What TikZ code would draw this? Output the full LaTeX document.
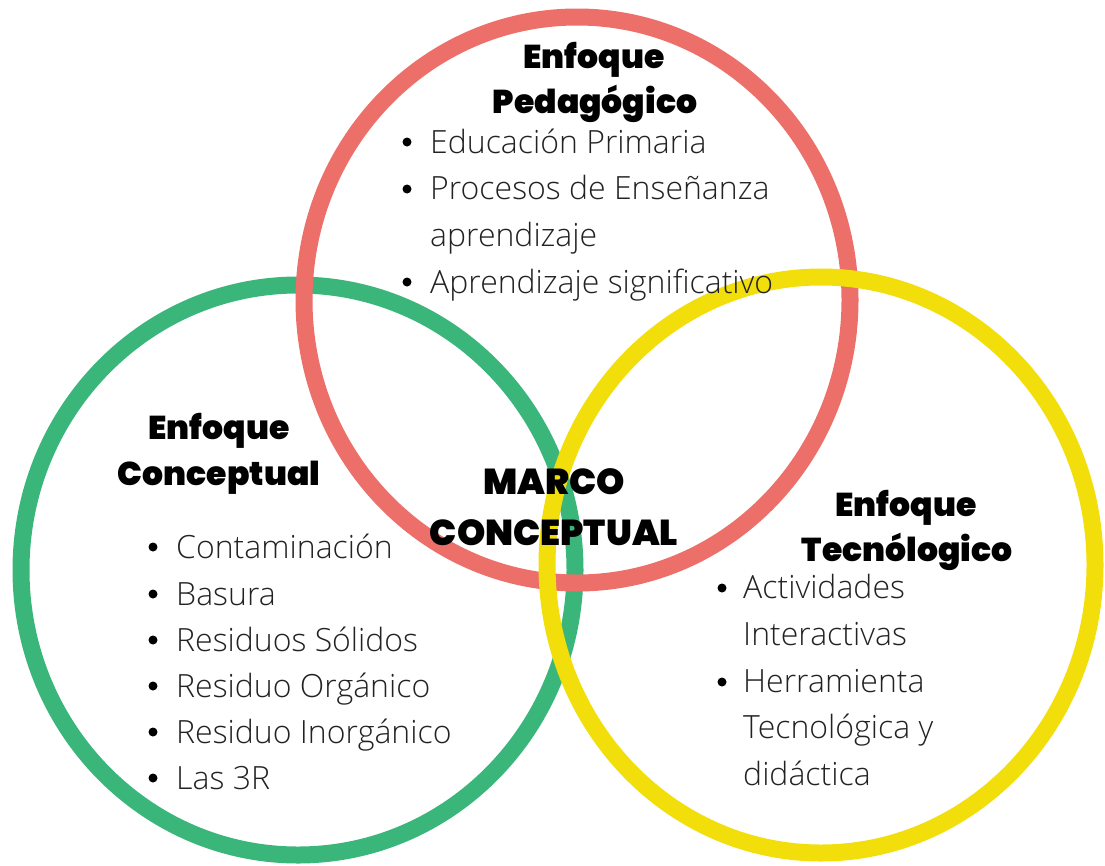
\documentclass[tikz,border=0pt]{standalone}
\usepackage{fontspec}
\setmainfont{Open Sans}
\newfontfamily\bodyfont{Open Sans Light}
\newfontfamily\headfont{Poppins Black}
\definecolor{cred}{HTML}{EC6F6A}
\definecolor{cgreen}{HTML}{3BB67A}
\definecolor{cyellow}{HTML}{F2DE0B}
\definecolor{ctext}{HTML}{222222}
\tikzset{
  ring/.style={line width=17pt},
  head/.style={anchor=base, inner sep=0pt, font=\headfont\fontsize{33}{38}\selectfont, text=black},
  marco/.style={anchor=base, inner sep=0pt, font=\headfont\fontsize{36}{42}\selectfont, text=black},
  item/.style={anchor=base west, inner sep=0pt, font=\bodyfont\fontsize{32}{38}\selectfont, text=ctext},
  dot/.style={fill=black}
}
\begin{document}
\begin{tikzpicture}[x=1pt,y=-1pt]
\useasboundingbox (0,0) rectangle (1105,865);
% circles
\draw[ring, cgreen] (298,570) ellipse [x radius=277pt, y radius=285pt];
\draw[ring, cred] (577,300) ellipse [x radius=273pt, y radius=283pt];
\draw[ring, cyellow] (821,565) ellipse [x radius=274pt, y radius=288pt];
% Pedagogico
\node[head] (p1) at (594,68) {Enfoque};
\node[head] (p2) at (595,113) {Pedagógico};
\fill[dot] (407,142) circle (4.5pt);
\node[item] (pa) at (430,153) {Educación Primaria};
\fill[dot] (407,189) circle (4.5pt);
\node[item] (pb) at (430,199) {Procesos de Enseñanza};
\node[item] (pc) at (430,246) {aprendizaje};
\fill[dot] (407,282) circle (4.5pt);
\node[item] (pd) at (430,293) {Aprendizaje significativo};
% Conceptual
\node[head] (c1) at (219,439) {Enfoque};
\node[head] (c2) at (219,485) {Conceptual};
\foreach \n/\yy/\t in {ca/558/Contaminación, cb/605/Basura, cc/651/Residuos Sólidos, cd/697/Residuo Orgánico, ce/743/Residuo Inorgánico, cf/789/Las 3R}{
  \fill[dot] (153,\yy-11) circle (4.5pt);
  \node[item] (\n) at (176,\yy) {\t};
}
% Marco
\node[marco] (m1) at (554,494) {MARCO};
\node[marco] (m2) at (554,545) {CONCEPTUAL};
% Tecnologico
\node[head] (t1) at (906,516) {Enfoque};
\node[head] (t2) at (907,561) {Tecnólogico};
\fill[dot] (722,588) circle (4.5pt);
\node[item] (ta) at (743,598) {Actividades};
\node[item] (tb) at (743,645) {Interactivas};
\fill[dot] (722,682) circle (4.5pt);
\node[item] (tc) at (743,692) {Herramienta};
\node[item] (td) at (743,738) {Tecnológica y};
\node[item] (te) at (743,785) {didáctica};
\end{tikzpicture}
\end{document}
